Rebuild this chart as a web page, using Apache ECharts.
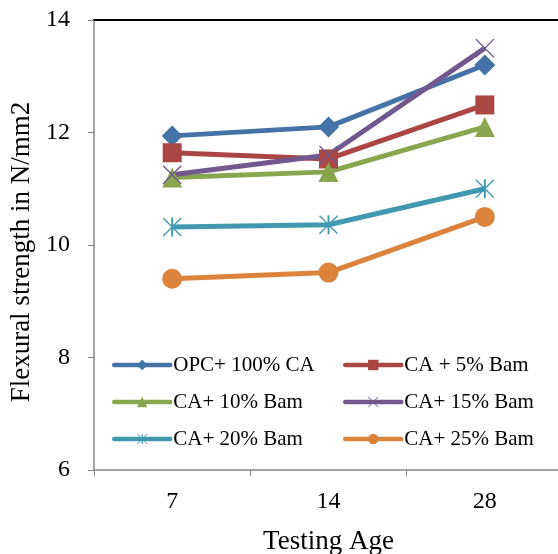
<!DOCTYPE html>
<html>
<head>
<meta charset="utf-8">
<script src="https://cdn.jsdelivr.net/npm/echarts@6/dist/echarts.min.js"></script>
<style>
  html, body { margin: 0; padding: 0; background: #fff; }
  #chart { width: 558px; height: 554px; }
</style>
</head>
<body>
<div id="chart"></div>
<script>
// data
const ages = ["7", "14", "28"];
const seriesNames = ["OPC+ 100% CA", "CA + 5% Bam", "CA+ 10% Bam", "CA+ 15% Bam", "CA+ 20% Bam", "CA+ 25% Bam"];
const opc100 = [11.94, 12.1, 13.2];
const bam5 = [11.64, 11.53, 12.49];
const bam10 = [11.2, 11.3, 12.1];
const bam15 = [11.25, 11.6, 13.5];
const bam20 = [10.32, 10.36, 11.0];
const bam25 = [9.4, 9.51, 10.5];
const yTicks = { min: 6, max: 14, interval: 2 };

const font = '"Liberation Serif", "Times New Roman", serif';
const colors = ["#4572A7", "#AA4643", "#89A54E", "#71588F", "#4198AF", "#DB843D"];

// thin X and asterisk shapes drawn as filled polygons
const crossPath = "path://M1,0 L10,9 L19,0 L20,1 L11,10 L20,19 L19,20 L10,11 L1,20 L0,19 L9,10 L0,1 Z";
const starPath = crossPath + " M9,0 L11,0 L11,20 L9,20 Z";

const chart = echarts.init(document.getElementById("chart"));

function makeSeries(name, data, color, symbol, size) {
  return {
    name: name,
    type: "line",
    data: data,
    symbol: symbol,
    symbolSize: size,
    showAllSymbol: true,
    lineStyle: { color: color, width: 5 },
    itemStyle: { color: color },
    emphasis: { disabled: true },
    animation: false,
  };
}

const legendCommon = {
  orient: "vertical",
  top: 353,
  padding: 0,
  itemWidth: 56,
  itemHeight: 13,
  itemGap: 13,
  selectedMode: false,
  lineStyle: { width: 4.5, cap: "round" },
  textStyle: { fontFamily: font, fontSize: 21, color: "#000", lineHeight: 24, padding: [0, 0, 0, -2] },
};

const option = {
  animation: false,
  grid: { left: 94, top: 20, width: 469, bottom: 84, outerBoundsMode: "none" },
  legend: [
    Object.assign({}, legendCommon, { left: 112, data: [seriesNames[0], seriesNames[2], seriesNames[4]] }),
    Object.assign({}, legendCommon, { left: 343, data: [seriesNames[1], seriesNames[3], seriesNames[5]] }),
  ],
  xAxis: [
    {
      type: "category",
      data: ages,
      name: "Testing Age",
      nameLocation: "middle",
      nameGap: 58,
      nameTextStyle: { fontFamily: font, fontSize: 27, color: "#000" },
      axisLine: { lineStyle: { color: "#868686", width: 1.5 } },
      axisTick: { show: true, length: 6, lineStyle: { color: "#868686" } },
      axisLabel: { fontFamily: font, fontSize: 24, color: "#000", margin: 20 },
    },
    {
      type: "category",
      data: ages,
      position: "top",
      axisLine: { lineStyle: { color: "#000", width: 2 } },
      axisTick: { show: false },
      axisLabel: { show: false },
    },
  ],
  yAxis: {
    type: "value",
    min: yTicks.min,
    max: yTicks.max,
    interval: yTicks.interval,
    name: "Flexural strength in N/mm2",
    nameLocation: "middle",
    nameGap: 58,
    nameTextStyle: { fontFamily: font, fontSize: 27, color: "#000", padding: [0, 14, 0, 0] },
    axisLine: { show: true, lineStyle: { color: "#868686", width: 1.5 } },
    axisTick: { show: true, length: 6, lineStyle: { color: "#868686" } },
    axisLabel: { fontFamily: font, fontSize: 24, color: "#000", margin: 24 },
    splitLine: { show: false },
  },
  series: [
    makeSeries(seriesNames[0], opc100, colors[0], "diamond", 21),
    makeSeries(seriesNames[1], bam5, colors[1], "rect", 19),
    makeSeries(seriesNames[2], bam10, colors[2], "triangle", 20),
    makeSeries(seriesNames[3], bam15, colors[3], crossPath, 19),
    makeSeries(seriesNames[4], bam20, colors[4], starPath, 19),
    makeSeries(seriesNames[5], bam25, colors[5], "circle", 20),
  ],
};

chart.setOption(option);
</script>
</body>
</html>
